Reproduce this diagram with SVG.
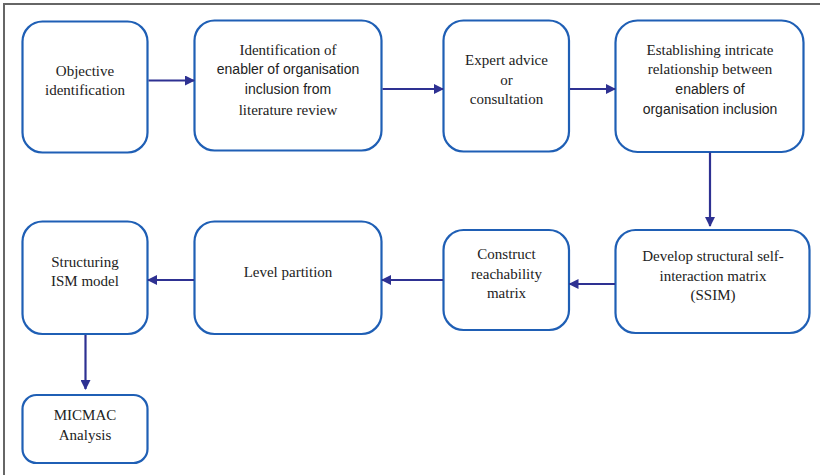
<svg xmlns="http://www.w3.org/2000/svg" width="820" height="475" viewBox="0 0 820 475">
<style>
.box{fill:#fff;stroke:#1f5fb5;stroke-width:2.2}
.t{font-family:"Liberation Serif","Times New Roman",serif;font-size:15px;fill:#222;text-anchor:middle}
.s{font-family:"Liberation Sans",Arial,sans-serif;font-size:14px;fill:#222;text-anchor:middle}
.c{stroke:#2e3192;stroke-width:2.2;fill:none;marker-end:url(#ah)}
</style>
<defs>
<marker id="ah" markerWidth="10" markerHeight="10" refX="9" refY="5" orient="auto" markerUnits="userSpaceOnUse">
<path d="M0,0 L10,5 L0,10 z" fill="#2e3192"/>
</marker>
</defs>
<rect width="820" height="475" fill="#fff"/>
<path d="M4,475 V4 H820" fill="none" stroke="#666" stroke-width="2"/>
<g id="n1"><rect class="box" x="22.5" y="21.5" width="125" height="131" rx="20"/>
<text class="t" x="85" y="76">Objective</text><text class="t" x="85" y="95">identification</text></g>
<g id="n2"><rect class="box" x="194.5" y="20.5" width="187" height="130" rx="20"/>
<text class="t" x="288" y="54.5">Identification of</text><text class="s" x="288" y="74">enabler of organisation</text><text class="s" x="288" y="94">inclusion from</text><text class="t" x="288" y="114.5">literature review</text></g>
<g id="n3"><rect class="box" x="443.5" y="20.5" width="125.5" height="131" rx="20"/>
<text class="t" x="506.5" y="65">Expert advice</text><text class="t" x="506.5" y="84.5">or</text><text class="t" x="506.5" y="104">consultation</text></g>
<g id="n4"><rect class="box" x="615.5" y="20.5" width="188" height="131.5" rx="22"/>
<text class="t" x="710" y="54.5">Establishing intricate</text><text class="t" x="710" y="74">relationship between</text><text class="s" x="710" y="93.5">enablers of</text><text class="s" x="710" y="113.5">organisation inclusion</text></g>
<g id="n5"><rect class="box" x="615.5" y="230" width="194" height="103" rx="20"/>
<text class="t" x="713" y="261">Develop structural self-</text><text class="t" x="713" y="281">interaction matrix</text><text class="t" x="713" y="300">(SSIM)</text></g>
<g id="n6"><rect class="box" x="443.5" y="230" width="125.5" height="100" rx="20"/>
<text class="t" x="506.5" y="259">Construct</text><text class="t" x="506.5" y="278.5">reachability</text><text class="t" x="506.5" y="298">matrix</text></g>
<g id="n7"><rect class="box" x="194.5" y="221.5" width="187" height="112.5" rx="20"/>
<text class="t" x="288" y="277">Level partition</text></g>
<g id="n8"><rect class="box" x="22.5" y="221.5" width="125" height="112.5" rx="20"/>
<text class="t" x="85" y="267">Structuring</text><text class="t" x="85" y="286">ISM model</text></g>
<g id="n9"><rect class="box" x="22.5" y="395" width="125" height="68" rx="14"/>
<text class="t" x="85" y="420">MICMAC</text><text class="t" x="85" y="439.5">Analysis</text></g>
<g id="connectors">
<line class="c" x1="148.5" y1="80.5" x2="194" y2="80.5"/>
<line class="c" x1="382.5" y1="89" x2="443" y2="89"/>
<line class="c" x1="570" y1="89" x2="615" y2="89"/>
<line class="c" x1="710" y1="152.5" x2="710" y2="226"/>
<line class="c" x1="615" y1="284" x2="569.5" y2="284"/>
<line class="c" x1="443" y1="280" x2="382" y2="280"/>
<line class="c" x1="194" y1="280" x2="148" y2="280"/>
<line class="c" x1="85.5" y1="335" x2="85.5" y2="389"/>
</g>
</svg>
